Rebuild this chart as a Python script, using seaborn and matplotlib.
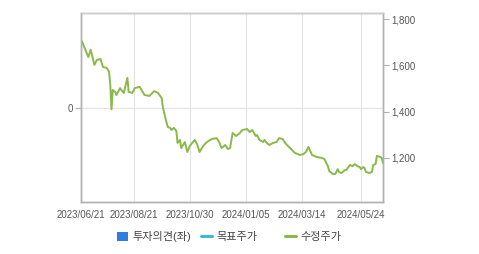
import matplotlib
matplotlib.use("Agg")
import seaborn as sns
import matplotlib.pyplot as plt
import matplotlib.ticker as ticker
from matplotlib.patches import Patch
from matplotlib.lines import Line2D
import pandas as pd

# trading-day index and adjusted price (수정주가)
day = [0, 1, 3, 6, 8, 11, 13, 16, 18, 21, 23, 24, 25, 26, 28, 29, 32, 33, 35, 38,
       39, 42, 44, 48, 52, 56, 60, 63, 66, 67, 69, 71, 73, 74, 76, 78, 79, 81, 82, 85,
       87, 89, 91, 93, 95, 97, 100, 103, 107, 111, 113, 115, 118, 120, 122, 124, 127, 130, 132, 136,
       138, 140, 143, 144, 146, 149, 150, 152, 154, 157, 160, 162, 165, 167, 171, 175, 179, 182, 184, 186,
       189, 191, 193, 197, 199, 202, 203, 206, 208, 210, 211, 213, 216, 217, 220, 222, 224, 226, 228, 229,
       231, 232, 233, 236, 238, 239, 241, 242, 245, 246, 247]
price = [1710, 1701, 1675, 1636, 1667, 1602, 1623, 1628, 1593, 1589, 1572, 1515, 1410, 1494, 1485, 1472, 1502, 1494, 1481, 1546,
         1485, 1481, 1502, 1507, 1472, 1468, 1489, 1481, 1459, 1420, 1373, 1334, 1330, 1321, 1330, 1317, 1265, 1278, 1243, 1269,
         1226, 1252, 1265, 1278, 1260, 1226, 1252, 1269, 1282, 1286, 1269, 1243, 1256, 1239, 1243, 1308, 1295, 1308, 1321, 1325,
         1312, 1321, 1295, 1299, 1278, 1269, 1278, 1265, 1256, 1265, 1269, 1286, 1282, 1265, 1243, 1222, 1213, 1217, 1226, 1248,
         1213, 1209, 1204, 1200, 1196, 1165, 1144, 1131, 1131, 1152, 1140, 1135, 1148, 1148, 1170, 1165, 1174, 1165, 1161, 1152,
         1161, 1157, 1140, 1135, 1140, 1170, 1174, 1209, 1204, 1200, 1178]

tick_days = [0, 43, 89, 135, 181, 229]
tick_labels = ["2023/06/21", "2023/08/21", "2023/10/30", "2024/01/05", "2024/03/14", "2024/05/24"]
price_ticks = [1200, 1400, 1600, 1800]
legend_labels = ["투자의견(좌)", "목표주가", "수정주가"]

sns.set_style("white")
plt.rcParams["font.family"] = ["Liberation Sans", "Noto Sans CJK KR", "DejaVu Sans"]

df = pd.DataFrame({"day": day, "price": price})

fig = plt.figure(figsize=(4.79, 2.54), dpi=100)
ax = fig.add_axes([0.169, 0.2047, 0.6305, 0.7441])
ax2 = ax.twinx()

green = "#8ab84a"
grid_c = "#e3e3e3"
spine_c = "#b0b0b0"
txt_c = "#555555"

# left axis: opinion scale, only 0
ax.set_ylim(-1, 1)
ax.set_yticks([0])
ax.set_xlim(0, 247)
ax.set_xticks(tick_days)
ax.set_xticklabels(tick_labels)
ax.grid(True, color=grid_c, linewidth=0.8)
ax.tick_params(axis="both", labelsize=7, colors=spine_c, labelcolor=txt_c, length=4, width=0.8, pad=2)

sns.lineplot(data=df, x="day", y="price", ax=ax2, color=green, linewidth=1.4)
ax2.set_ylim(1010, 1826)
ax2.set_yticks(price_ticks)
ax2.yaxis.set_major_formatter(ticker.FuncFormatter(lambda v, p: f"{int(v):,}"))
ax2.tick_params(axis="y", labelsize=7, colors=spine_c, labelcolor=txt_c, length=4, width=0.8, pad=2)
ax2.set_xlabel("")
ax2.set_ylabel("")
ax.set_xlabel("")
ax.set_ylabel("")

for a in (ax, ax2):
    for s in a.spines.values():
        s.set_color(spine_c)
        s.set_linewidth(1.0)
ax2.spines["top"].set_color("#cccccc")

handles = [
    Patch(facecolor="#2e7de0", edgecolor="none"),
    Line2D([0], [0], color="#3fb8d6", linewidth=2.2),
    Line2D([0], [0], color=green, linewidth=2.2),
]
# each legend item sits at its own fixed slot, as in the original widget
slots = [117 / 479, 201 / 479, 285 / 479]
for h, lab, x0 in zip(handles, legend_labels, slots):
    fig.legend([h], [lab], loc="center left", bbox_to_anchor=(x0, 0.067),
               frameon=False, fontsize=8, handlelength=1.0, handleheight=0.8,
               handletextpad=0.4, borderpad=0, borderaxespad=0, labelcolor="#444444")

fig.savefig("out.png", dpi=100)
